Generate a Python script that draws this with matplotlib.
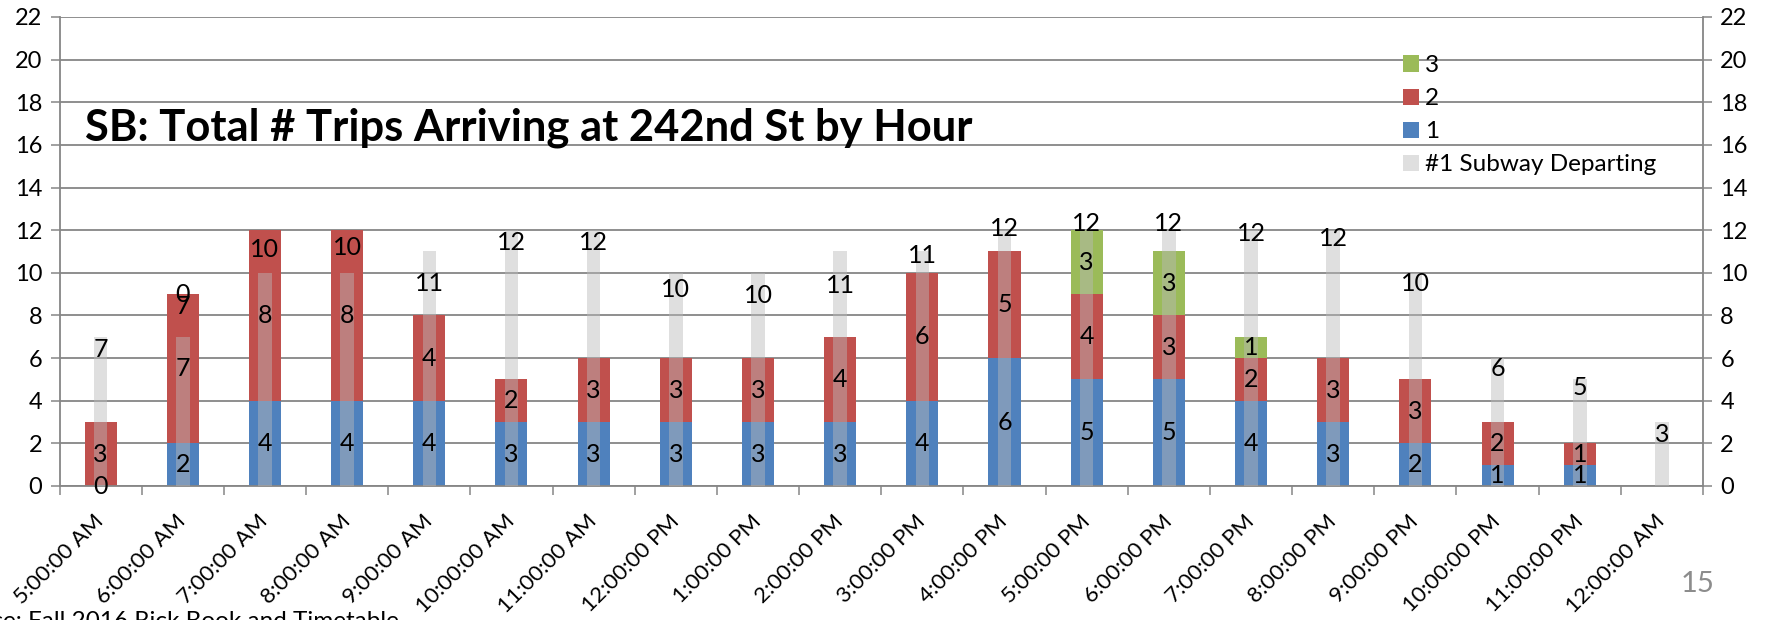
import numpy as np
import matplotlib.pyplot as plt
from matplotlib.patches import Patch

plt.rcParams["font.family"] = ["Lato", "DejaVu Sans"]

hours = [
    "5:00:00 AM", "6:00:00 AM", "7:00:00 AM", "8:00:00 AM", "9:00:00 AM",
    "10:00:00 AM", "11:00:00 AM", "12:00:00 PM", "1:00:00 PM", "2:00:00 PM",
    "3:00:00 PM", "4:00:00 PM", "5:00:00 PM", "6:00:00 PM", "7:00:00 PM",
    "8:00:00 PM", "9:00:00 PM", "10:00:00 PM", "11:00:00 PM", "12:00:00 AM",
]
nan = np.nan
trips_1 = [0, 2, 4, 4, 4, 3, 3, 3, 3, 3, 4, 6, 5, 5, 4, 3, 2, 1, 1, nan]
trips_2 = [3, 7, 8, 8, 4, 2, 3, 3, 3, 4, 6, 5, 4, 3, 2, 3, 3, 2, 1, nan]
trips_3 = [nan, 0, nan, nan, nan, nan, nan, nan, nan, nan,
           nan, nan, 3, 3, 1, nan, nan, nan, nan, nan]
departing = [7, 7, 10, 10, 11, 12, 12, 10, 10, 11, 11, 12, 12, 12, 12, 12, 10, 6, 5, 3]

# manual nudges of the departing labels (in y units), as on the slide
dep_label_nudge = [0, 2.0, 1.7, 1.8, -0.9, 0, 0, -0.2, -0.45, -1.0,
                   0.4, 0.7, 0.9, 0.9, 0.45, 0.2, 0.1, 0.1, 0.2, 0]

BLUE = "#4F81BD"
RED = "#C0504D"
GREEN = "#9BBB59"
GRAY = "#BABABA"
GRID = "#868686"

fig = plt.figure(figsize=(17.87, 6.2), dpi=100)
ax = fig.add_axes([59.5 / 1787, 1 - 486 / 620, (1703 - 59.5) / 1787, (486 - 17) / 620])

x = np.arange(len(hours))
w_main = 0.39
w_dep = 0.165
label_fs = 18

bottom = np.zeros(len(hours))
for vals, color in [(trips_1, BLUE), (trips_2, RED), (trips_3, GREEN)]:
    v = np.array(vals, dtype=float)
    h = np.nan_to_num(v)
    ax.bar(x, h, w_main, bottom=bottom, color=color, zorder=2)
    for i in range(len(x)):
        if not np.isnan(v[i]):
            ax.text(x[i], bottom[i] + v[i] / 2, f"{int(v[i])}", ha="center",
                    va="center", fontsize=label_fs, zorder=5)
    bottom = bottom + h

ax.bar(x, departing, w_dep, color=GRAY, alpha=0.45, zorder=3)
for i in range(len(x)):
    ax.text(x[i], departing[i] - 0.6 + dep_label_nudge[i], f"{departing[i]}",
            ha="center", va="center", fontsize=label_fs, zorder=5)

ax.set_xlim(-0.5, len(hours) - 0.5)
ax.set_ylim(0, 22)
ax.set_yticks(np.arange(0, 23, 2))
ax.yaxis.grid(True, color=GRID, linewidth=1.3, zorder=0)
ax.set_axisbelow(True)
ax.tick_params(axis="y", which="both", left=True, right=True, labelleft=True,
               labelright=True, direction="out", length=6.5, width=1.1,
               color=GRID, labelsize=17, pad=6)

ax.set_xticks(np.arange(len(hours) + 1) - 0.5)
ax.set_xticklabels([])
ax.set_xticks(x, minor=True)
ax.set_xticklabels(hours, minor=True, rotation=45, ha="right",
                   rotation_mode="anchor", fontsize=16)
ax.tick_params(axis="x", which="major", direction="out", length=6.5,
               width=1.1, color=GRID)
ax.tick_params(axis="x", which="minor", length=0, pad=23)
for lbl in ax.get_xticklabels(minor=True):
    lbl.set_va("center")

for side in ["left", "right", "bottom"]:
    ax.spines[side].set_color(GRID)
    ax.spines[side].set_linewidth(1.3)
ax.spines["top"].set_visible(False)

fig.text(85 / 1787, 1 - 141 / 620, "SB: Total # Trips Arriving at 242nd St by Hour",
         fontsize=31.3, fontweight="bold", ha="left", va="baseline")

handles = [
    Patch(facecolor=GREEN, label="3"),
    Patch(facecolor=RED, label="2"),
    Patch(facecolor=BLUE, label="1"),
    Patch(facecolor=GRAY, alpha=0.45, label="#1 Subway Departing"),
]
fig.legend(handles=handles, loc="upper left",
           bbox_to_anchor=(1403 / 1787, 1 - 55 / 620), frameon=False,
           fontsize=17.5, handlelength=0.65, handleheight=0.65,
           handletextpad=0.25, labelspacing=0.5, borderpad=0, borderaxespad=0)

fig.text(399 / 1787, 1 - 611 / 620, "Source: Fall 2016 Rick Book and Timetable",
         fontsize=17.5, ha="right", va="top")
fig.text(1698 / 1787, 1 - 584 / 620, "15", fontsize=21, color="#8C8C8C",
         ha="center", va="center")

fig.savefig("out.png", dpi=100)
